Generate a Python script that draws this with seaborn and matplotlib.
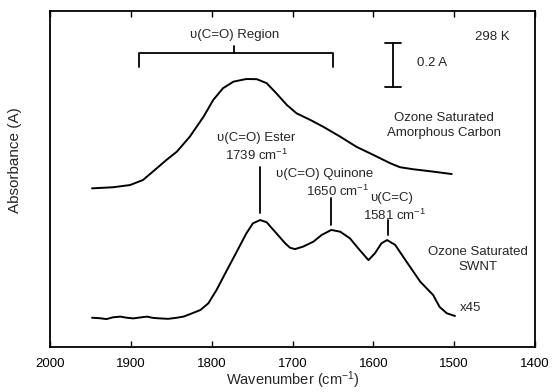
import pandas as pd
import matplotlib
matplotlib.use("Agg")
import matplotlib.pyplot as plt
import seaborn as sns

# Datos (absorbancia en A, 0.2 A = barra de escala)
carbon_wavenumber = [1948, 1922, 1901, 1885, 1868, 1856, 1843, 1827, 1810, 1798, 1786,
                     1773, 1757, 1744, 1732, 1720, 1707, 1695, 1678, 1662, 1641, 1621,
                     1600, 1579, 1567, 1551, 1526, 1503]
carbon_absorbance = [0.721, 0.726, 0.736, 0.759, 0.812, 0.850, 0.888, 0.956, 1.047, 1.123,
                     1.176, 1.206, 1.218, 1.217, 1.199, 1.153, 1.100, 1.062, 1.032, 1.001,
                     0.956, 0.910, 0.873, 0.835, 0.817, 0.808, 0.797, 0.786]

swnt_wavenumber = [1948, 1939, 1930, 1922, 1913, 1905, 1897, 1889, 1880, 1872, 1864,
                   1854, 1843, 1835, 1827, 1814, 1804, 1794, 1781, 1769, 1757, 1749,
                   1740, 1732, 1720, 1709, 1703, 1697, 1687, 1674, 1664, 1652, 1641,
                   1629, 1617, 1606, 1598, 1590, 1583, 1573, 1559, 1542, 1526, 1518,
                   1509, 1499]
swnt_absorbance = [0.133, 0.131, 0.127, 0.135, 0.138, 0.133, 0.130, 0.134, 0.138, 0.132,
                   0.130, 0.128, 0.133, 0.138, 0.149, 0.168, 0.199, 0.259, 0.350, 0.433,
                   0.517, 0.562, 0.577, 0.567, 0.517, 0.471, 0.451, 0.445, 0.456, 0.479,
                   0.509, 0.532, 0.524, 0.494, 0.441, 0.395, 0.426, 0.471, 0.486, 0.464,
                   0.388, 0.297, 0.236, 0.182, 0.153, 0.141]

x_ticks = [2000, 1900, 1800, 1700, 1600, 1500, 1400]

sns.set_theme(style="ticks")
plt.rcParams["font.family"] = ["Liberation Sans", "DejaVu Sans"]
plt.rcParams["mathtext.fontset"] = "custom"
plt.rcParams["mathtext.rm"] = "Liberation Sans"
plt.rcParams["mathtext.default"] = "regular"

carbon = pd.DataFrame({"wavenumber": carbon_wavenumber, "absorbance": carbon_absorbance})
swnt = pd.DataFrame({"wavenumber": swnt_wavenumber, "absorbance": swnt_absorbance})

fig = plt.figure(figsize=(5.52, 3.92), dpi=100)
ax = fig.add_axes([50 / 552, 45 / 392, 485 / 552, 336 / 392])

sns.lineplot(data=carbon, x="wavenumber", y="absorbance", color="black", lw=1.4, ax=ax)
sns.lineplot(data=swnt, x="wavenumber", y="absorbance", color="black", lw=1.4, ax=ax)

ax.set_xlim(2000, 1400)
ax.set_ylim(0, 1.527)
ax.set_xticks(x_ticks)
ax.set_yticks([])
ax.tick_params(axis="x", direction="in", top=True, length=4, width=1,
               labelsize=9.5, pad=8, colors="black")
for s in ax.spines.values():
    s.set_linewidth(1.3)
    s.set_color("black")

ax.set_xlabel("Wavenumber (cm$^{-1}$)", fontsize=10.5)
ax.xaxis.set_label_coords(0.5, -0.066)
ax.set_ylabel("Absorbance (A)", fontsize=11)
ax.yaxis.set_label_coords(-0.058, 0.557)

fs = 9.5
kw = dict(color="black", lw=1.3)

# region C=O
ax.plot([1890, 1890, 1650, 1650], [1.273, 1.336, 1.336, 1.273], **kw)
ax.plot([1772, 1772], [1.336, 1.368], **kw)
ax.text(1772, 1.418, "υ(C=O) Region", ha="center", va="center", fontsize=fs)

# barra de escala
ax.plot([1576, 1576], [1.182, 1.382], **kw)
ax.plot([1586, 1566], [1.382, 1.382], **kw)
ax.plot([1586, 1566], [1.182, 1.182], **kw)
ax.text(1546, 1.291, "0.2 A", ha="left", va="center", fontsize=fs)
ax.text(1453, 1.409, "298 K", ha="center", va="center", fontsize=fs)

ax.text(1513, 1.041, "Ozone Saturated", ha="center", va="center", fontsize=fs)
ax.text(1513, 0.973, "Amorphous Carbon", ha="center", va="center", fontsize=fs)
ax.text(1470, 0.432, "Ozone Saturated", ha="center", va="center", fontsize=fs)
ax.text(1470, 0.364, "SWNT", ha="center", va="center", fontsize=fs)
ax.text(1493, 0.177, "x45", ha="left", va="center", fontsize=fs)

# picos
ax.text(1745, 0.950, "υ(C=O) Ester", ha="center", va="center", fontsize=fs)
ax.text(1745, 0.873, "1739 cm$^{-1}$", ha="center", va="center", fontsize=fs)
ax.plot([1740, 1740], [0.818, 0.609], **kw)

ax.text(1660, 0.786, "υ(C=O) Quinone", ha="center", va="center", fontsize=fs)
ax.text(1644, 0.709, "1650 cm$^{-1}$", ha="center", va="center", fontsize=fs)
ax.plot([1652, 1652], [0.677, 0.555], **kw)

ax.text(1578, 0.677, "υ(C=C)", ha="center", va="center", fontsize=fs)
ax.text(1574, 0.600, "1581 cm$^{-1}$", ha="center", va="center", fontsize=fs)
ax.plot([1582, 1582], [0.577, 0.509], **kw)

fig.savefig("out.png", dpi=100)
plt.close()
